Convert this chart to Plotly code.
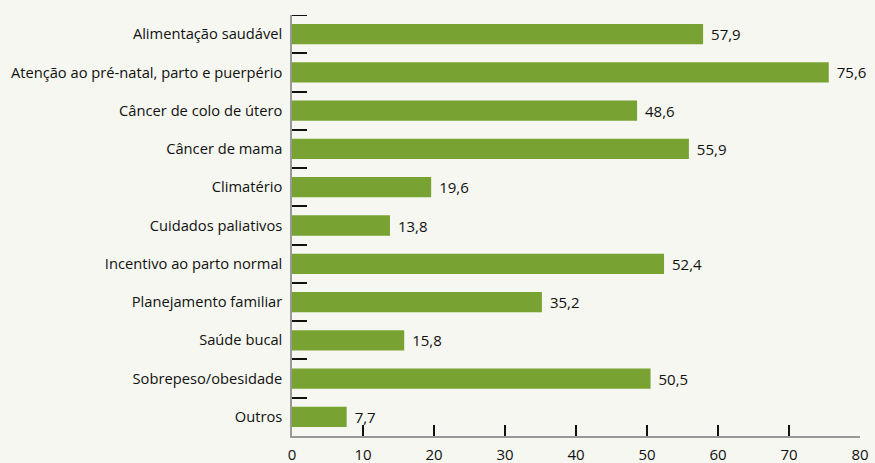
import plotly.graph_objects as go

categories = ["Alimentação saudável", "Atenção ao pré-natal, parto e puerpério",
              "Câncer de colo de útero", "Câncer de mama", "Climatério",
              "Cuidados paliativos", "Incentivo ao parto normal",
              "Planejamento familiar", "Saúde bucal", "Sobrepeso/obesidade", "Outros"]
values = [57.9, 75.6, 48.6, 55.9, 19.6, 13.8, 52.4, 35.2, 15.8, 50.5, 7.7]
value_labels = ["57,9", "75,6", "48,6", "55,9", "19,6", "13,8", "52,4", "35,2", "15,8", "50,5", "7,7"]
x_ticks = [0, 10, 20, 30, 40, 50, 60, 70, 80]

bg = "#f5f7f0"
fig = go.Figure(go.Bar(
    y=categories, x=values, orientation="h",
    marker=dict(color="#78a232", line=dict(width=0)),
    width=0.53,
    text=["\u2009\u2009" + t for t in value_labels], textposition="outside",
    textfont=dict(color="#111111", size=15),
    cliponaxis=False,
))
fig.update_layout(
    width=875, height=463,
    paper_bgcolor=bg, plot_bgcolor=bg,
    margin=dict(l=292, r=15, t=15, b=27, autoexpand=False),
    font=dict(family="Open Sans, Noto Sans, sans-serif", size=14.7, color="#111111"),
    showlegend=False,
    bargap=0.47,
)
# top boundary tick of the category axis (plotly omits the outer boundary tick)
fig.add_shape(type="line", xref="paper", yref="y", x0=0, x1=15 / 568,
              y0=-0.5, y1=-0.5, line=dict(color="#111111", width=2))
fig.update_xaxes(range=[0, 80], tickvals=x_ticks, showgrid=False, zeroline=False,
                 automargin=False,
                 showline=True, linecolor="#999999", linewidth=1.5,
                 ticks="inside", ticklen=11, tickwidth=2, tickcolor="#111111",
                 ticklabelstandoff=4,
                 tickfont=dict(size=15))
fig.update_yaxes(range=[10.5, -0.5], showgrid=False, zeroline=False,
                 automargin=False,
                 showline=True, linecolor="#999999", linewidth=1.5,
                 ticks="inside", ticklen=15, tickwidth=2, tickcolor="#111111",
                 tickson="boundaries", ticklabelstandoff=5,
                 tickfont=dict(size=14.7))
fig.write_html("out.html", config={"displayModeBar": False},
               post_script="document.body.style.margin='0';document.body.style.background='%s';" % bg)
